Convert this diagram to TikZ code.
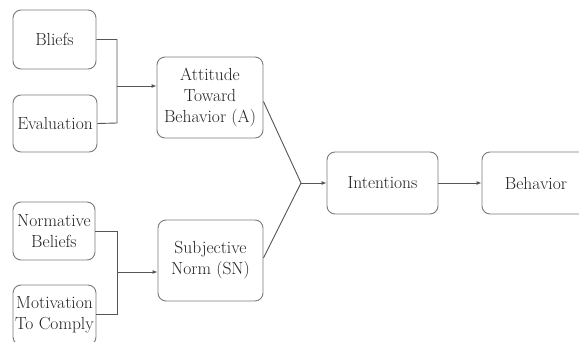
\documentclass[tikz,border=0pt]{standalone}
\usepackage{fontspec}
\usetikzlibrary{arrows.meta}
\definecolor{boxline}{HTML}{7A7A7A}
\definecolor{conn}{HTML}{555555}
\definecolor{txt}{HTML}{222222}
\begin{document}
\begin{tikzpicture}[x=1pt,y=1pt,
  box/.style={draw=boxline,line width=0.9pt,rounded corners=8pt,align=center,text=txt,
    font=\fontsize{17.5}{21}\selectfont,inner sep=0pt},
  conn/.style={draw=conn,line width=0.9pt},
  arr/.style={conn,-{Latex[length=5pt,width=4pt]}}]
\useasboundingbox (0,0) rectangle (579,341);
\clip (0,0) rectangle (579,341);
\fill[white] (0,0) rectangle (579,341);
\node[box,minimum width=83pt,minimum height=59pt] (bl) at (54.5,301.5) {Bliefs};
\node[box,minimum width=84pt,minimum height=57pt] (ev) at (55,217.5) {Evaluation};
\node[box,minimum width=106pt,minimum height=81pt] (att) at (210,243.5) {Attitude\\Toward\\Behavior (A)};
\node[box,minimum width=82pt,minimum height=58pt] (nb) at (54,110) {Normative\\Beliefs};
\node[box,minimum width=83pt,minimum height=60pt] (mc) at (54.5,26) {Motivation\\To Comply};
\node[box,minimum width=105pt,minimum height=81pt] (sn) at (210.5,80.5) {Subjective\\Norm (SN)};
\node[box,minimum width=111pt,minimum height=62pt] (int) at (382.5,158) {Intentions};
\node[box,minimum width=108pt,minimum height=62pt] (beh) at (536,158) {Behavior};
\coordinate (j1) at (117,255);
\coordinate (j2) at (117,69);
\coordinate (j3) at (301,158);
\draw[conn] (bl.east) -| (117,218) -- (ev.east);
\draw[arr] (j1) -- (j1 -| att.west);
\draw[conn] (nb.east) -| (117,27) -- (mc.east |- 0,27);
\draw[arr] (j2) -- (j2 -| sn.west);
\draw[conn] ([yshift=-4pt]att.east) -- (j3) -- ([yshift=2.5pt]sn.east);
\draw[arr] (j3) -- (int.west);
\draw[arr] (int.east) -- (beh.west);
\end{tikzpicture}
\end{document}
